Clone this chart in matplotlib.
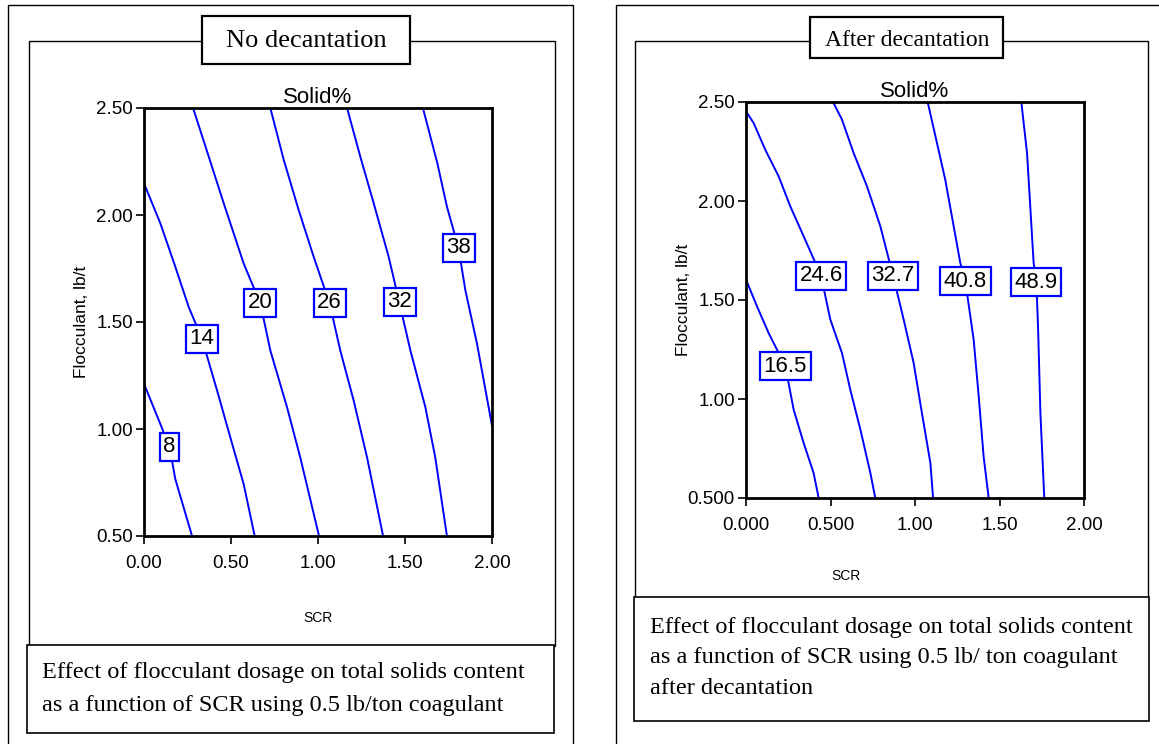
import matplotlib
matplotlib.use("Agg")
import matplotlib.pyplot as plt
from matplotlib.patches import Rectangle

W, H = 1159, 744

# ----- contour lines: (SCR, flocculant) per level -----
left_levels = ["8", "14", "20", "26", "32", "38"]
left_scr = [
    [0.0, 0.094, 0.146, 0.18, 0.276],
    [0.0, 0.094, 0.18, 0.257, 0.333, 0.42, 0.496, 0.573, 0.636],
    [0.282, 0.372, 0.458, 0.573, 0.669, 0.726, 0.822, 0.898, 1.006],
    [0.726, 0.803, 0.889, 0.975, 1.067, 1.128, 1.205, 1.282, 1.374],
    [1.167, 1.243, 1.320, 1.406, 1.469, 1.531, 1.617, 1.674, 1.741],
    [1.603, 1.686, 1.741, 1.808, 1.847, 1.914, 2.0],
]
left_floc = [
    [1.211, 1.023, 0.917, 0.766, 0.5],
    [2.148, 1.961, 1.758, 1.570, 1.422, 1.18, 0.961, 0.742, 0.5],
    [2.5, 2.273, 2.055, 1.773, 1.586, 1.367, 1.102, 0.867, 0.5],
    [2.5, 2.258, 2.023, 1.805, 1.586, 1.367, 1.133, 0.867, 0.5],
    [2.5, 2.273, 2.055, 1.805, 1.586, 1.367, 1.102, 0.867, 0.5],
    [2.5, 2.242, 2.039, 1.844, 1.648, 1.398, 1.016],
]
left_lab_x = [0.146, 0.333, 0.669, 1.067, 1.469, 1.810]
left_lab_y = [0.917, 1.422, 1.589, 1.589, 1.594, 1.847]

right_levels = ["16.5", "24.6", "32.7", "40.8", "48.9"]
right_scr = [
    [0.0, 0.065, 0.134, 0.233, 0.282, 0.341, 0.4, 0.43],
    [0.0, 0.045, 0.114, 0.193, 0.262, 0.341, 0.444, 0.499, 0.568, 0.617, 0.677, 0.736, 0.765],
    [0.515, 0.568, 0.637, 0.716, 0.795, 0.870, 0.933, 0.992, 1.041, 1.091, 1.107],
    [1.075, 1.130, 1.179, 1.229, 1.268, 1.298, 1.347, 1.377, 1.406, 1.436],
    [1.629, 1.663, 1.682, 1.702, 1.718, 1.728, 1.742, 1.765],
]
right_floc = [
    [1.603, 1.468, 1.333, 1.165, 0.946, 0.778, 0.626, 0.5],
    [2.453, 2.394, 2.259, 2.125, 1.973, 1.822, 1.623, 1.401, 1.232, 1.047, 0.845, 0.626, 0.5],
    [2.5, 2.411, 2.242, 2.074, 1.872, 1.623, 1.401, 1.182, 0.929, 0.677, 0.5],
    [2.5, 2.293, 2.108, 1.872, 1.687, 1.594, 1.300, 1.013, 0.710, 0.5],
    [2.5, 2.242, 1.973, 1.687, 1.589, 1.367, 0.929, 0.5],
]
right_lab_x = [0.233, 0.444, 0.870, 1.298, 1.718]
right_lab_y = [1.165, 1.623, 1.623, 1.594, 1.589]

ticks_x = [0.0, 0.5, 1.0, 1.5, 2.0]
ticks_y = [0.5, 1.0, 1.5, 2.0, 2.5]
left_xlabels = ["0.00", "0.50", "1.00", "1.50", "2.00"]
left_ylabels = ["0.50", "1.00", "1.50", "2.00", "2.50"]
right_xlabels = ["0.000", "0.500", "1.00", "1.50", "2.00"]
right_ylabels = ["0.500", "1.00", "1.50", "2.00", "2.50"]

left_title = "No decantation"
right_title = "After decantation"
left_caption = ("Effect of flocculant dosage on total solids content\n"
                "as a function of SCR using 0.5 lb/ton coagulant")
right_caption = ("Effect of flocculant dosage on total solids content\n"
                 "as a function of SCR using 0.5 lb/ ton coagulant\n"
                 "after decantation")

SANS = "Liberation Sans"
SERIF = "Liberation Serif"

fig = plt.figure(figsize=(W / 100, H / 100), dpi=100)


def fx(px):
    return px / W


def fy(py):
    return 1 - py / H


def box(x0, y0, x1, y1, lw=1.0, fill=False, z=1):
    r = Rectangle((fx(x0), fy(y1)), fx(x1) - fx(x0), fy(y0) - fy(y1),
                  transform=fig.transFigure, fill=fill, facecolor="white",
                  edgecolor="black", linewidth=lw, zorder=z)
    fig.add_artist(r)


def make_axes(x0, y0, x1, y1):
    ax = fig.add_axes([fx(x0), fy(y1), fx(x1) - fx(x0), fy(y0) - fy(y1)])
    ax.set_zorder(5)
    ax.patch.set_alpha(0)
    return ax


def draw_panel(ax, scr, floc, levels, lab_x, lab_y, xlabels, ylabels):
    for xs, ys in zip(scr, floc):
        ax.plot(xs, ys, color="#0000ff", linewidth=1.4, zorder=2)
    for t, x, y in zip(levels, lab_x, lab_y):
        ax.text(x, y, t, ha="center", va="center", fontsize=16, family=SANS,
                zorder=4,
                bbox=dict(boxstyle="square,pad=0.16", facecolor="white",
                          edgecolor="#0000ff", linewidth=1.6))
    ax.set_xlim(0, 2)
    ax.set_ylim(0.5, 2.5)
    ax.set_xticks(ticks_x)
    ax.set_xticklabels(xlabels)
    ax.set_yticks(ticks_y)
    ax.set_yticklabels(ylabels)
    ax.tick_params(direction="out", length=6, width=1.2, labelsize=13.5,
                   pad=2)
    for lbl in ax.get_xticklabels() + ax.get_yticklabels():
        lbl.set_family(SANS)
    ax.tick_params(axis="x", pad=8)
    for s in ax.spines.values():
        s.set_linewidth(2)
    ax.set_title("Solid%", fontsize=16, family=SANS, pad=1)


# ----- left panel -----
box(8, 5, 573, 760, lw=1.0)
box(29, 41, 555, 646, lw=1.0)
box(27, 645, 554, 733, lw=1.2, fill=True, z=2)
box(202, 16, 410, 64, lw=1.6, fill=True, z=2)
fig.text(fx(306), fy(41), left_title, ha="center", va="center",
         fontsize=19, family=SERIF)
fig.text(fx(42), fy(689), left_caption, ha="left", va="center",
         fontsize=17.5, family=SERIF, linespacing=1.75)
axl = make_axes(144, 108, 492, 536)
draw_panel(axl, left_scr, left_floc, left_levels, left_lab_x, left_lab_y,
           left_xlabels, left_ylabels)
fig.text(fx(82), fy(322), "Flocculant, lb/t", rotation=90, ha="center",
         va="center", fontsize=12.5, family=SANS)
fig.text(fx(318), fy(618), "SCR", ha="center", va="center", fontsize=10,
         family=SANS)

# ----- right panel -----
box(616, 5, 1175, 760, lw=1.0)
box(635, 41, 1148, 598, lw=1.0)
box(634, 597, 1149, 721, lw=1.2, fill=True, z=2)
box(810, 17, 1003, 58, lw=1.6, fill=True, z=2)
fig.text(fx(907), fy(41), right_title, ha="center", va="center",
         fontsize=17, family=SERIF)
fig.text(fx(650), fy(658), right_caption, ha="left", va="center",
         fontsize=17.5, family=SERIF, linespacing=1.62)
axr = make_axes(746, 102, 1084, 498)
draw_panel(axr, right_scr, right_floc, right_levels, right_lab_x,
           right_lab_y, right_xlabels, right_ylabels)
fig.text(fx(684), fy(300), "Flocculant, lb/t", rotation=90, ha="center",
         va="center", fontsize=12.5, family=SANS)
fig.text(fx(846), fy(576), "SCR", ha="center", va="center", fontsize=10,
         family=SANS)

fig.savefig("out.png", dpi=100)
